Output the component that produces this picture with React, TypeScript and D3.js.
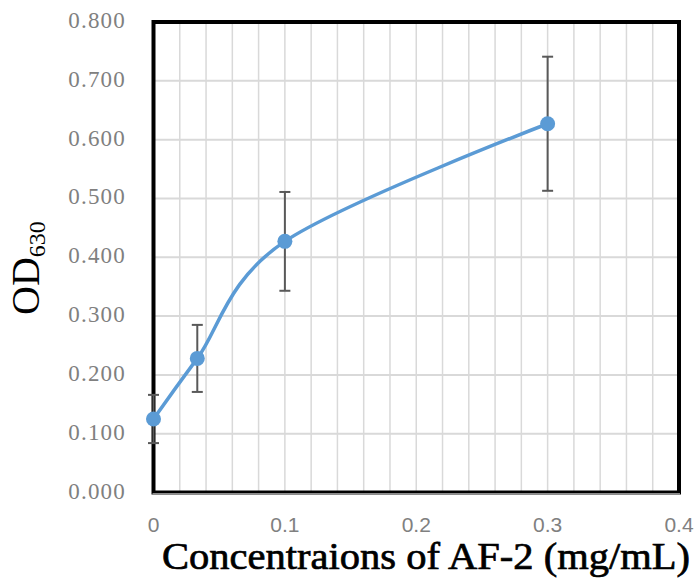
import React from "react";
import * as d3 from "d3";

const concentrations = [0, 1 / 30, 0.1, 0.3];
const od630 = [0.125, 0.228, 0.427, 0.627];
const errors = [0.041, 0.057, 0.084, 0.114];
const yTicks = [0, 0.1, 0.2, 0.3, 0.4, 0.5, 0.6, 0.7, 0.8];
const xTicks = [0, 0.1, 0.2, 0.3, 0.4];
const xGrid = d3.range(0, 21).map((i) => i * 0.02);

const W = 698;
const H = 579;
const L = 153.5;
const R = 679;
const T = 22;
const B = 492.5;

export default function App() {
  const x = d3.scaleLinear().domain([0, 0.4]).range([L, R]);
  const y = d3.scaleLinear().domain([0, 0.8]).range([B, T]);
  const pts: [number, number][] = concentrations.map((c, i) => [x(c), y(od630[i])]);
  const line = d3.line().curve(d3.curveCardinal.tension(0))(pts) || "";
  const grid = "#d9d9d9";
  return (
    <svg width={W} height={H} style={{ position: "absolute", left: 0, top: 0, background: "#fff" }}>
      <rect x={0} y={0} width={W} height={H} fill="#fff" />
      {xGrid.map((v, i) => (
        <line key={"vx" + i} x1={x(v)} x2={x(v)} y1={T} y2={B} stroke={grid} strokeWidth={1.5} />
      ))}
      {yTicks.map((v, i) => (
        <line key={"hy" + i} x1={L} x2={R} y1={y(v)} y2={y(v)} stroke={grid} strokeWidth={2} />
      ))}
      <rect x={L} y={T} width={R - L} height={B - T} fill="none" stroke="#000" strokeWidth={4} />
      <line x1={L - 1} x2={R + 1} y1={B + 1.5} y2={B + 1.5} stroke="#8c8c8c" strokeWidth={2} />
      {yTicks.map((v, i) => (
        <text key={"yt" + i} x={126} y={y(v) + 6} textAnchor="end" fontFamily="'Liberation Serif', serif" fontSize={23} letterSpacing={1.2} fill="#808080">
          {d3.format(".3f")(v)}
        </text>
      ))}
      {xTicks.map((v, i) => (
        <text key={"xt" + i} x={x(v)} y={532} textAnchor="middle" fontFamily="'Liberation Sans', sans-serif" fontSize={21} fill="#808080">
          {d3.format("")(v)}
        </text>
      ))}
      {pts.map(([px, py], i) => {
        const top = y(od630[i] + errors[i]);
        const bot = y(od630[i] - errors[i]);
        return (
          <g key={"e" + i} stroke="#595959" strokeWidth={2}>
            <line x1={px} x2={px} y1={top} y2={bot} />
            <line x1={px - 5.5} x2={px + 5.5} y1={top} y2={top} />
            <line x1={px - 5.5} x2={px + 5.5} y1={bot} y2={bot} />
          </g>
        );
      })}
      <path d={line} fill="none" stroke="#5b9bd5" strokeWidth={3.5} strokeLinecap="round" />
      {pts.map(([px, py], i) => (
        <circle key={"p" + i} cx={px} cy={py} r={7.5} fill="#5b9bd5" />
      ))}
      <text x={162} y={569} fontFamily="'Liberation Serif', serif" fontSize={38} fill="#000" stroke="#000" strokeWidth={0.7} textLength={528} lengthAdjust="spacingAndGlyphs">
        Concentraions of AF-2 (mg/mL)
      </text>
      <text transform="translate(39,315) rotate(-90)" fontFamily="'Liberation Serif', serif" fontSize={40} fill="#000">
        OD<tspan fontSize={24} dy={6}>630</tspan>
      </text>
    </svg>
  );
}
